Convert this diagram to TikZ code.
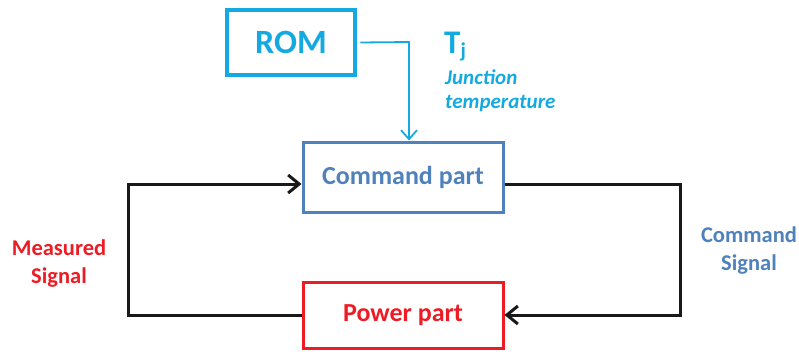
\documentclass[tikz,border=0pt]{standalone}
\usepackage{fontspec}
\setmainfont{Carlito}
\usetikzlibrary{arrows.meta}
\definecolor{romcyan}{RGB}{20,170,225}
\definecolor{cmdblue}{RGB}{79,129,189}
\definecolor{pwrred}{RGB}{237,28,36}
\tikzset{
  box/.style={draw, rectangle, inner sep=0pt, font=\bfseries\fontsize{26}{30}\selectfont},
  loopline/.style={draw=black!90, line width=3pt, -{Straight Barb[length=11pt,width=18pt,line width=3pt]}},
  lbl/.style={font=\bfseries\fontsize{22.5}{28}\selectfont, inner sep=0pt, anchor=base},
  cyanlbl/.style={anchor=base west, inner sep=0pt, text=romcyan, font=\bfseries\itshape\fontsize{21}{25}\selectfont}
}
\begin{document}
\begin{tikzpicture}[x=1pt,y=-1pt]
\useasboundingbox (0,0) rectangle (799,351);
\node[box, draw=romcyan, text=romcyan, line width=4.5pt, minimum width=128pt, minimum height=65pt,
  font=\bfseries\fontsize{34}{40}\selectfont] (rom) at (291,42.5) {ROM};
\node[box, draw=cmdblue, text=cmdblue, line width=3pt, minimum width=200pt, minimum height=70pt] (cmd) at (403,177) {Command part};
\node[box, draw=pwrred, text=pwrred, line width=3pt, minimum width=200pt, minimum height=66pt] (pwr) at (403,315) {Power part};
% labels
\node[anchor=base west, inner sep=0pt, text=romcyan, font=\bfseries\fontsize{33}{36}\selectfont] (tj) at (444,53) {T\raisebox{-0.3ex}{\fontsize{21}{24}\selectfont j}};
\node[cyanlbl] (jt1) at (445,84) {Junction};
\node[cyanlbl] (jt2) at (445,108) {temperature};
\node[lbl, text=pwrred] (meas1) at (59,255) {Measured};
\node[lbl, text=pwrred] (meas2) at (59,283) {Signal};
\node[lbl, text=cmdblue] (csig1) at (749,242) {Command};
\node[lbl, text=cmdblue] (csig2) at (749,270) {Signal};
% coordinates
\coordinate (c1) at (128,315);
\coordinate (c2) at (128,184);
\coordinate (c3) at (680,184);
\coordinate (c4) at (680,315);
\coordinate (r1) at (409,42);
\draw[loopline] (pwr.west |- c1) -- (c1) -- (c2) -- (cmd.west |- c2);
\draw[loopline] (cmd.east |- c3) -- (c3) -- (c4) -- (pwr.east |- c4);
\draw[romcyan, line width=1.8pt, -{Straight Barb[length=9pt,width=16pt,line width=1.8pt]}]
  ([xshift=3pt]rom.east) -- (r1) -- (r1 |- cmd.north);
\end{tikzpicture}
\end{document}
